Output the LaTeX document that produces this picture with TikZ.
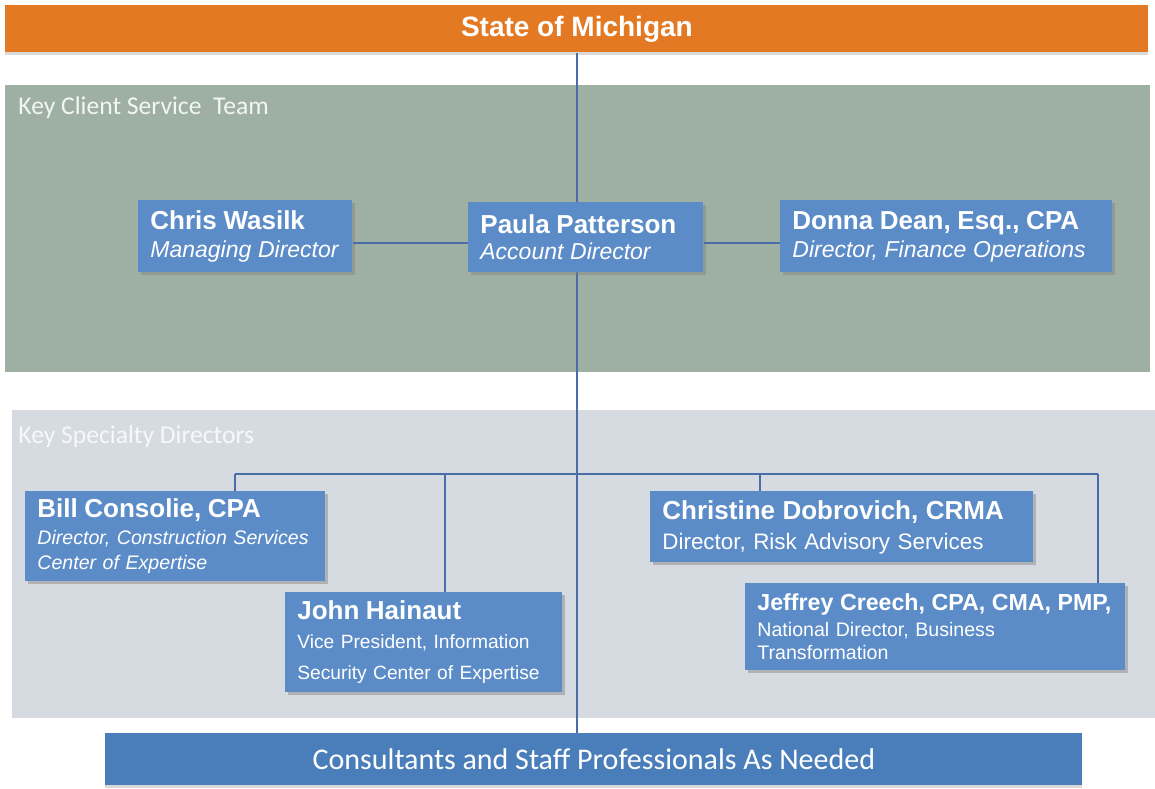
\documentclass[tikz,border=0pt]{standalone}
\usepackage{fontspec}
\usepackage{tikz}
\usetikzlibrary{shadows}
\newfontfamily\arial{Liberation Sans}
\newfontfamily\calibri{Carlito}

\definecolor{michorange}{HTML}{E47923}
\definecolor{teamgreen}{HTML}{9EB0A3}
\definecolor{specgray}{HTML}{D6DBE1}
\definecolor{boxblue}{HTML}{5C8CC8}
\definecolor{barblue}{HTML}{4A7EBB}
\definecolor{linkblue}{HTML}{4A6CA8}

\newcommand{\pname}[1]{{\fontsize{13}{15}\selectfont\bfseries #1}}
\newcommand{\prole}[1]{{\fontsize{11.5}{15}\selectfont\itshape #1}}

\begin{document}
\begin{tikzpicture}[x=0.5pt,y=-0.5pt,
    panel/.style={anchor=north west, inner sep=0pt},
    person/.style={anchor=north west, fill=boxblue, text=white, align=left,
        inner xsep=6pt, inner ysep=0pt, font=\arial,
        drop shadow={opacity=0.45, shadow xshift=1.2pt, shadow yshift=-1.2pt}},
    link/.style={draw=linkblue, line width=0.6pt}]
    \useasboundingbox (0,0) rectangle (1155,788);

    % panels behind everything
    \fill[teamgreen] (5,85) rectangle (1150,372);
    \fill[specgray] (12,410) rectangle (1155,718);
    \node[panel, text=white!88!teamgreen, font=\calibri\fontsize{12.8}{14}\selectfont] (teamlbl) at (18,96) {Key Client Service\ \ Team};
    \node[panel, text=white!80!specgray, font=\calibri\fontsize{12.8}{14}\selectfont] (speclbl) at (18,425) {Key Specialty Directors};

    % top and bottom bars
    \node[anchor=north west, fill=michorange, minimum width=571.5pt, minimum height=23.5pt, inner sep=0pt,
        text=white, font=\arial\bfseries\fontsize{14}{16}\selectfont,
        drop shadow={opacity=0.3, shadow xshift=0pt, shadow yshift=-1.5pt}] (state) at (5,5) {State of Michigan};
    \node[anchor=north west, fill=barblue, minimum width=488.5pt, minimum height=26pt, inner sep=0pt,
        text=white, font=\calibri\fontsize{15}{17}\selectfont,
        drop shadow={opacity=0.3, shadow xshift=0pt, shadow yshift=-1.2pt}] (staff) at (105,733) {Consultants and Staff Professionals As Needed};

    % main spine
    \draw[link] (state.south) -- (state.south |- staff.north);

    % client service team
    \node[person, text width=95pt, minimum height=36pt] (chris) at (138,200)
        {\pname{Chris Wasilk}\\[2pt] \prole{Managing Director}};
    \node[person, text width=105.5pt, minimum height=35pt] (paula) at (468,202)
        {\pname{Paula Patterson}\\[1pt] \prole{Account Director}};
    \node[person, text width=154pt, minimum height=36pt] (donna) at (780,200)
        {\pname{Donna Dean, Esq., CPA}\\[2pt] \prole{Director, Finance Operations}};
    \draw[link] (chris.east |- 0,243) -- (paula.west |- 0,243);
    \draw[link] (paula.east |- 0,243) -- (donna.west |- 0,243);

    % specialty directors
    \node[person, text width=138pt, minimum height=45pt, font=\arial\fontsize{9.8}{12.5}\selectfont] (bill) at (25,491)
        {\pname{Bill Consolie, CPA}\\[1pt] \textit{Director, Construction Services}\\ \textit{Center of Expertise}};
    \node[person, text width=126.5pt, minimum height=50pt, font=\arial\fontsize{9.6}{15.5}\selectfont] (john) at (285,592)
        {\pname{John Hainaut}\\[-1pt] Vice President, Information\\ Security Center of Expertise};
    \node[person, text width=179.5pt, minimum height=35.5pt, font=\arial\fontsize{11.2}{14.5}\selectfont] (christine) at (650,491)
        {\pname{Christine Dobrovich, CRMA}\\[0.5pt] Director, Risk Advisory Services};
    \node[person, text width=178pt, minimum height=43.5pt, font=\arial\fontsize{9.8}{11.8}\selectfont] (jeffrey) at (745,583)
        {{\fontsize{11.6}{14}\selectfont\bfseries Jeffrey Creech, CPA, CMA, PMP,}\\[1pt] National Director, Business\\ Transformation};

    % bus to the directors
    \coordinate (busL) at (235,474);
    \coordinate (busJ) at (445,474);
    \coordinate (busC) at (760,474);
    \coordinate (busR) at (1098,474);
    \draw[link] (busL) -- (busR);
    \draw[link] (busL) -- (busL |- bill.north);
    \draw[link] (busJ) -- (busJ |- john.north);
    \draw[link] (busC) -- (busC |- christine.north);
    \draw[link] (busR) -- (busR |- jeffrey.north);
\end{tikzpicture}
\end{document}
